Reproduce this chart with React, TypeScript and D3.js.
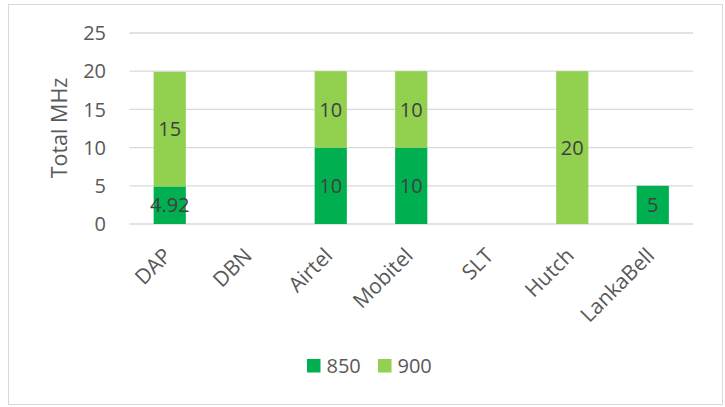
import React, { useEffect } from "react";
import * as d3 from "d3";

const categories = ["DAP", "DBN", "Airtel", "Mobitel", "SLT", "Hutch", "LankaBell"];
const seriesKeys = ["850", "900"];
const values850 = [4.92, 0, 10, 10, 0, 0, 5];
const values900 = [15, 0, 10, 10, 0, 20, 0];
const yTicks = [0, 5, 10, 15, 20, 25];

const colors: Record<string, string> = { "850": "#00B050", "900": "#92D050" };

const W = 725;
const H = 407;
const margin = { top: 33, right: 32, bottom: 183, left: 129.5 };
const FONT = "'Open Sans', sans-serif";

type Row = { name: string; "850": number; "900": number };

const App = () => {
  const ref = React.useRef<SVGSVGElement>(null);

  useEffect(() => {
    if (!ref.current) return;
    const svg = d3.select(ref.current);
    svg.selectAll("*").remove();

    const rows: Row[] = categories.map((c, i) => ({
      name: c,
      "850": values850[i],
      "900": values900[i]
    }));

    const x = d3
      .scaleBand()
      .domain(categories)
      .range([margin.left, W - margin.right])
      .paddingInner(0.6)
      .paddingOuter(0.3);
    const y = d3
      .scaleLinear()
      .domain([0, 25])
      .range([H - margin.bottom, margin.top]);

    // outer border
    svg
      .append("rect")
      .attr("x", 8.5)
      .attr("y", 4.5)
      .attr("width", 714)
      .attr("height", 400)
      .attr("fill", "#fff")
      .attr("stroke", "#D9D9D9");

    // gridlines
    svg
      .append("g")
      .selectAll("line")
      .data(yTicks)
      .join("line")
      .attr("x1", margin.left)
      .attr("x2", W - margin.right)
      .attr("y1", (d) => y(d))
      .attr("y2", (d) => y(d))
      .attr("stroke", "#D9D9D9")
      .attr("stroke-width", 1.3);

    // y tick labels
    svg
      .append("g")
      .selectAll("text")
      .data(yTicks)
      .join("text")
      .attr("x", 106)
      .attr("y", (d) => y(d))
      .attr("dy", "0.36em")
      .attr("text-anchor", "end")
      .attr("font-family", FONT)
      .attr("font-size", 20)
      .attr("fill", "#595959")
      .text((d) => d);

    // y title
    svg
      .append("text")
      .attr("transform", `translate(66.5,${(y(0) + y(25)) / 2 - 0.5}) rotate(-90)`)
      .attr("text-anchor", "middle")
      .attr("font-family", FONT)
      .attr("font-size", 21.5)
      .attr("fill", "#595959")
      .text("Total MHz");

    const stacked = d3.stack<Row>().keys(seriesKeys)(rows);

    const layers = svg
      .append("g")
      .selectAll("g")
      .data(stacked)
      .join("g")
      .attr("fill", (d) => colors[d.key]);

    layers
      .selectAll("rect")
      .data((d) => d.filter((s) => s[1] - s[0] > 0))
      .join("rect")
      .attr("x", (d) => x(d.data.name)!)
      .attr("width", x.bandwidth())
      .attr("y", (d) => y(d[1]))
      .attr("height", (d) => y(d[0]) - y(d[1]));

    // data labels
    stacked.forEach((layer) => {
      svg
        .append("g")
        .selectAll("text")
        .data(layer.filter((s) => s[1] - s[0] > 0))
        .join("text")
        .attr("x", (d) => x(d.data.name)! + x.bandwidth() / 2)
        .attr("y", (d) => y((d[0] + d[1]) / 2))
        .attr("dy", "0.36em")
        .attr("text-anchor", "middle")
        .attr("font-family", FONT)
        .attr("font-size", 20)
        .attr("fill", "#404040")
        .text((d) => d.data[layer.key as "850" | "900"]);
    });

    // category labels
    svg
      .append("g")
      .selectAll("text")
      .data(categories)
      .join("text")
      .attr(
        "transform",
        (d) => `translate(${x(d)! + x.bandwidth() / 2 + 3},${y(0) + 33}) rotate(-45)`
      )
      .attr("text-anchor", "end")
      .attr("font-family", FONT)
      .attr("font-size", 21)
      .attr("fill", "#595959")
      .text((d) => d);

    // legend
    const legend = svg
      .append("g")
      .selectAll("g")
      .data(seriesKeys)
      .join("g")
      .attr("transform", (d, i) => `translate(${307 + i * 71},359)`);
    legend
      .append("rect")
      .attr("width", 13.5)
      .attr("height", 13.5)
      .attr("fill", (d) => colors[d]);
    legend
      .append("text")
      .attr("x", 19.5)
      .attr("y", 7)
      .attr("dy", "0.36em")
      .attr("font-family", FONT)
      .attr("font-size", 20)
      .attr("fill", "#595959")
      .text((d) => d);
  }, []);

  return (
    <svg
      ref={ref}
      width={W}
      height={H}
      style={{ position: "absolute", left: 0, top: 0 }}
    ></svg>
  );
};

export default App;
